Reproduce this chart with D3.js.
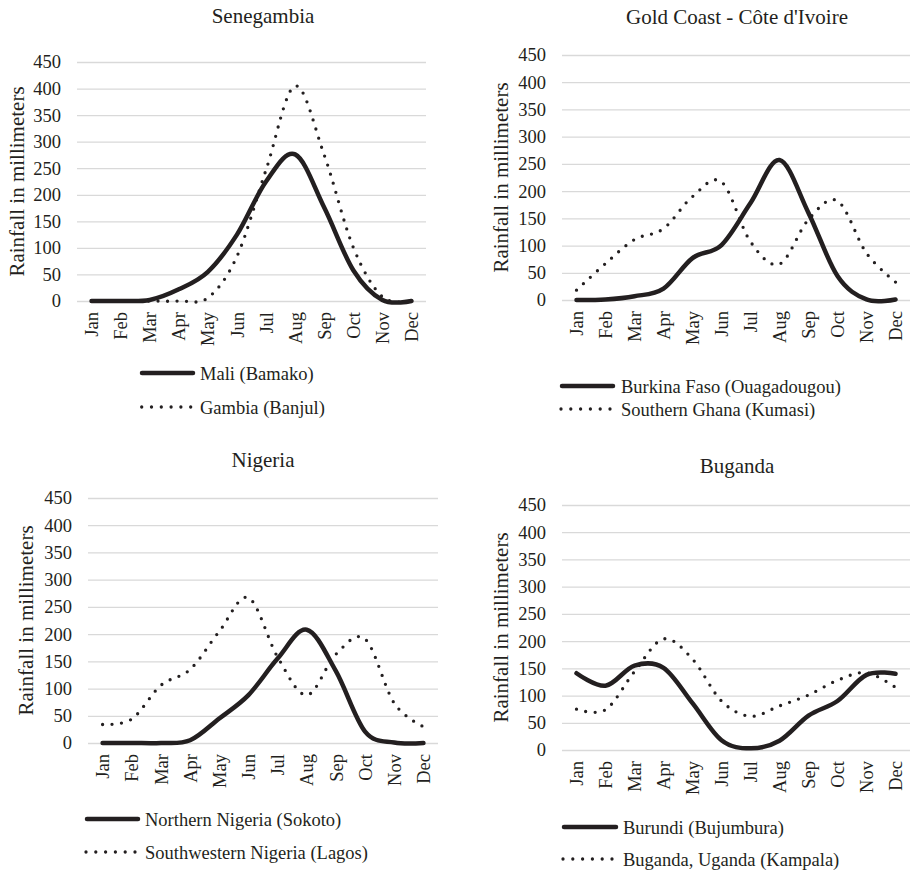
<!DOCTYPE html>
<html><head><meta charset="utf-8">
<script src="https://cdn.jsdelivr.net/npm/d3@7"></script>
<style>
body{margin:0;background:#fff}
svg{display:block}
text{font-family:"Liberation Serif","Times New Roman",serif;fill:#231f20}
</style>
</head><body>
<svg id="chart" width="910" height="872"></svg>
<script>
// ---- data ----
const months = ["Jan","Feb","Mar","Apr","May","Jun","Jul","Aug","Sep","Oct","Nov","Dec"];
const yTicks = [0,50,100,150,200,250,300,350,400,450];
const panelTitles = ["Senegambia","Gold Coast - Côte d'Ivoire","Nigeria","Buganda"];
const yAxisTitle = "Rainfall in millimeters";

const maliBamako      = [0,0,2,22,55,125,225,276,176,58,2,0];
const gambiaBanjul    = [0,0,0,0,6,84,247,405,275,101,8,0];
const burkinaOuaga    = [0,1,7,21,77,101,178,257,160,44,1,1];
const ghanaKumasi     = [18,67,111,131,190,217,107,66,148,182,86,33];
const sokoto          = [0,0,0,5,45,88,155,208,132,21,1,0];
const lagos           = [34,44,106,135,205,267,158,88,163,191,73,30];
const bujumbura       = [141,118,155,151,86,18,3,17,63,90,138,140];
const kampala         = [75,74,144,204,167,90,62,81,101,128,142,115];

const legendNames = [
  ["Mali (Bamako)","Gambia (Banjul)"],
  ["Burkina Faso (Ouagadougou)","Southern Ghana (Kumasi)"],
  ["Northern Nigeria (Sokoto)","Southwestern Nigeria (Lagos)"],
  ["Burundi (Bujumbura)","Buganda, Uganda (Kampala)"]
];
const solidSeries  = [maliBamako, burkinaOuaga, sokoto, bujumbura];
const dottedSeries = [gambiaBanjul, ghanaKumasi, lagos, kampala];

// ---- layout ----
const layout = [
  {x0:77,  x1:426, yTop:62,  yBot:301, tx:263, ty:23,  ytx:24,  lx0:142, lx1:193, dx0:141.7, ltx:200, ly1:373, ly2:407},
  {x0:562, x1:910, yTop:55,  yBot:300, tx:737, ty:24,  ytx:508, lx0:562, lx1:613, dx0:561,   ltx:621, ly1:386, ly2:409},
  {x0:88,  x1:438, yTop:498, yBot:743, tx:263, ty:467, ytx:33,  lx0:87,  lx1:138, dx0:86,    ltx:145, ly1:819, ly2:852},
  {x0:562, x1:910, yTop:505, yBot:750, tx:737, ty:473, ytx:508, lx0:564, lx1:616, dx0:563,   ltx:623, ly1:827, ly2:859}
];

const ink = "#231f20";
const svg = d3.select("#chart");

layout.forEach((L, i) => {
  const g = svg.append("g");
  const x = d3.scalePoint().domain(months).range([L.x0, L.x1]).padding(0.5);
  const y = d3.scaleLinear().domain([0,450]).range([L.yBot, L.yTop]);

  // y axis + gridlines
  const ya = g.append("g").attr("transform", `translate(${L.x0},0)`)
    .call(d3.axisLeft(y).tickValues(yTicks).tickSize(-(L.x1 - L.x0)).tickPadding(16));
  ya.select(".domain").remove();
  ya.selectAll("line").attr("stroke", "#d9d9d9").attr("stroke-width", 1.3);
  ya.selectAll("text").attr("font-size", 18.5).attr("fill", ink)
    .style("font-family", '"Liberation Serif",serif');

  // x axis
  const xa = g.append("g").attr("transform", `translate(0,${L.yBot})`)
    .call(d3.axisBottom(x).tickSize(0));
  xa.select(".domain").remove();
  xa.selectAll("text")
    .attr("font-size", 18.5).attr("fill", ink)
    .style("font-family", '"Liberation Serif",serif')
    .attr("transform", "rotate(-90)")
    .attr("text-anchor", "end")
    .attr("x", -11).attr("y", 0).attr("dy", "0.33em");

  // title
  g.append("text").attr("x", L.tx).attr("y", L.ty).attr("text-anchor", "middle")
    .attr("font-size", 21).text(panelTitles[i]);

  // y title
  g.append("text")
    .attr("transform", `translate(${L.ytx},${(L.yTop + L.yBot) / 2}) rotate(-90)`)
    .attr("text-anchor", "middle").attr("font-size", 21).text(yAxisTitle);

  const line = d3.line().x((d, k) => x(months[k])).y(d => y(d)).curve(d3.curveCardinal.tension(0));

  g.append("path").datum(dottedSeries[i]).attr("d", line)
    .attr("fill", "none").attr("stroke", ink).attr("stroke-width", 3.3)
    .attr("stroke-linecap", "round").attr("stroke-dasharray", "0 9.5");

  g.append("path").datum(solidSeries[i]).attr("d", line)
    .attr("fill", "none").attr("stroke", ink).attr("stroke-width", 4.5)
    .attr("stroke-linecap", "round").attr("stroke-linejoin", "round");

  // legend
  g.append("line").attr("x1", L.lx0).attr("x2", L.lx1).attr("y1", L.ly1).attr("y2", L.ly1)
    .attr("stroke", ink).attr("stroke-width", 4.5).attr("stroke-linecap", "round");
  g.append("text").attr("x", L.ltx).attr("y", L.ly1 + 6.5).attr("font-size", 18.5).text(legendNames[i][0]);
  g.append("line").attr("x1", L.dx0).attr("x2", L.dx0 + 49.2).attr("y1", L.ly2).attr("y2", L.ly2)
    .attr("stroke", ink).attr("stroke-width", 3.3).attr("stroke-linecap", "round")
    .attr("stroke-dasharray", "0 9.8");
  g.append("text").attr("x", L.ltx).attr("y", L.ly2 + 6.5).attr("font-size", 18.5).text(legendNames[i][1]);
});
</script>
</body></html>
